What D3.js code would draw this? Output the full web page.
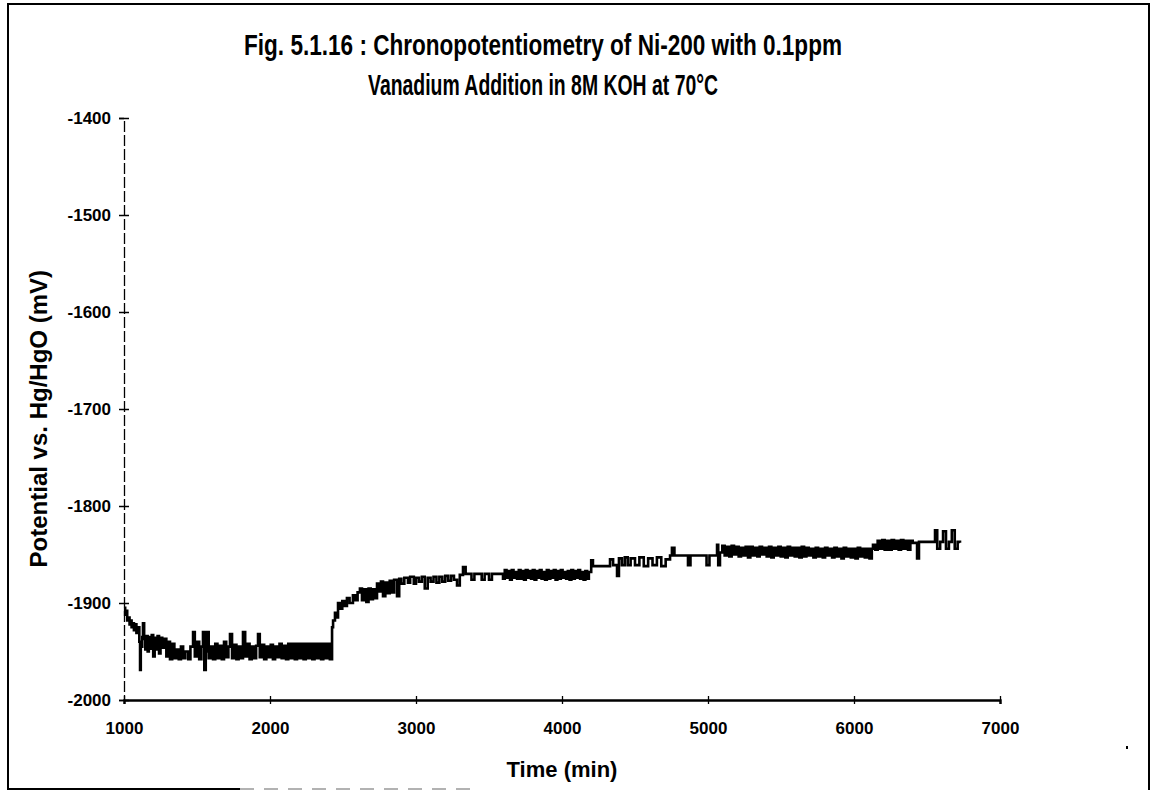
<html>
<head>
<meta charset="utf-8">
<script src="https://d3js.org/d3.v7.min.js"></script>
<style>
  body { margin: 0; background: #fff; }
  text { font-family: "Liberation Sans", Arial, sans-serif; font-weight: bold; fill: #000; }
</style>
</head>
<body>
<div id="chart"></div>
<script>

// svg size
var svg_width = 1152
var svg_height = 796

// axis ticks
var x_ticks = [1000, 2000, 3000, 4000, 5000, 6000, 7000]
var y_ticks = [-2000, -1900, -1800, -1700, -1600, -1500, -1400]

// time (min)
var time_min = [
  1000, 1008, 1015, 1022, 1030, 1038, 1045, 1052, 1060, 1068, 1075, 1085, 1095, 1105, 1110, 1115,
  1125, 1130, 1138, 1146, 1154, 1162, 1170, 1180, 1190, 1200, 1210, 1220, 1230, 1240, 1250, 1262,
  1275, 1290, 1300, 1315, 1330, 1345, 1360, 1375, 1390, 1405, 1420, 1440, 1455, 1473, 1485, 1500,
  1515, 1530, 1541, 1550, 1560, 1568, 1580, 1595, 1610, 1625, 1640, 1655, 1670, 1685, 1700, 1715,
  1726, 1740, 1755, 1770, 1785, 1800, 1815, 1830, 1845, 1860, 1875, 1890, 1905, 1918, 1930, 1945,
  1960, 1975, 1990, 2005, 2020, 2035, 2050, 2065, 2080, 2095, 2110, 2125, 2140, 2155, 2170, 2185,
  2200, 2215, 2230, 2245, 2260, 2275, 2290, 2305, 2320, 2335, 2350, 2365, 2380, 2395, 2410,
  2425, 2432, 2445, 2455, 2466, 2480, 2495, 2510, 2527, 2545, 2568, 2585, 2600, 2616, 2630, 2645,
  2660, 2675, 2690, 2705, 2720, 2733, 2745, 2760, 2774, 2790, 2805, 2820, 2835, 2850, 2870, 2885,
  2900, 2920, 2945, 2960, 2985, 3000, 3020, 3040, 3060, 3080, 3100, 3120, 3140, 3160, 3180, 3200,
  3220, 3240, 3260, 3281, 3300, 3322, 3340, 3360, 3380, 3400, 3430, 3450, 3470, 3500, 3520, 3560,
  3596, 3608, 3620, 3632, 3644, 3656, 3668, 3680, 3692, 3704,
  3716, 3728, 3740, 3752, 3764, 3776, 3788, 3800, 3812, 3824,
  3836, 3848, 3860, 3872, 3884, 3896, 3908, 3920, 3932, 3944,
  3956, 3968, 3980, 3992, 4004, 4016, 4028, 4040, 4052, 4064,
  4076, 4088, 4100, 4112, 4124, 4136, 4148, 4160, 4172, 4184,
  4192, 4200, 4212, 4260, 4300, 4329, 4350, 4377, 4390, 4410, 4430, 4450, 4470, 4500, 4530, 4560,
  4590, 4620, 4650, 4680, 4710, 4740, 4753, 4770, 4820, 4863, 4880, 4920, 4950, 4990, 5010, 5040,
  5062, 5070,
  5082, 5098, 5114, 5130, 5146, 5162, 5178, 5194, 5210, 5226,
  5242, 5258, 5274, 5290, 5306, 5322, 5338, 5354, 5370, 5386,
  5402, 5418, 5434, 5450, 5466, 5482, 5498, 5514, 5530, 5546,
  5562, 5578, 5594, 5610, 5626, 5642, 5658, 5674, 5690, 5706,
  5722, 5738, 5754, 5770, 5786, 5802, 5818, 5834, 5850, 5866,
  5882, 5898, 5914, 5930, 5946, 5962, 5978, 5994, 6010, 6026,
  6042, 6058, 6074, 6090, 6106, 6122,
  6130, 6146, 6162, 6178, 6194, 6210, 6226, 6242, 6258, 6274, 6290, 6306, 6322, 6338, 6354, 6370,
  6386, 6402, 6418, 6432, 6445, 6541, 6555, 6570, 6590, 6610, 6630, 6650, 6670, 6690, 6710, 6726
]

// potential vs. Hg/HgO (mV), same order
var potential_mv = [
  -1905, -1912, -1908, -1918, -1915, -1922, -1918, -1925, -1921, -1928, -1922, -1931, -1925, -1940, -1969, -1945,
  -1935, -1921, -1937, -1948, -1934, -1950, -1935, -1947, -1933, -1955, -1936, -1948, -1934, -1952, -1936, -1946,
  -1937, -1955, -1940, -1958, -1942, -1957, -1948, -1958, -1945, -1957, -1950, -1958, -1945, -1930, -1955, -1940,
  -1958, -1945, -1930, -1969, -1950, -1930, -1957, -1945, -1958, -1942, -1957, -1944, -1958, -1940, -1956, -1945,
  -1932, -1957, -1943, -1958, -1945, -1957, -1930, -1955, -1942, -1958, -1945, -1957, -1944, -1932, -1956, -1943,
  -1958, -1945, -1956, -1943, -1958, -1945, -1956, -1942, -1957, -1944, -1958, -1942, -1957, -1942, -1958, -1942,
  -1957, -1942, -1958, -1942, -1957, -1942, -1958, -1942, -1957, -1942, -1958, -1942, -1957, -1942, -1958,
  -1925, -1918, -1910, -1915, -1900, -1906, -1898, -1903, -1895, -1900, -1892, -1897, -1889, -1885, -1897, -1886,
  -1899, -1885, -1896, -1886, -1895, -1880, -1888, -1878, -1893, -1879, -1890, -1877, -1889, -1876, -1893, -1875,
  -1880, -1874, -1879, -1873, -1880, -1874, -1878, -1873, -1885, -1874, -1878, -1873, -1879, -1873, -1878, -1872,
  -1877, -1872, -1876, -1882, -1871, -1863, -1870, -1870, -1876, -1870, -1870, -1876, -1870, -1876, -1870, -1870,
  -1875, -1866, -1874, -1867, -1876, -1866, -1874, -1868, -1875, -1866,
  -1875, -1867, -1876, -1866, -1874, -1867, -1875, -1866, -1876, -1867,
  -1874, -1866, -1875, -1868, -1876, -1866, -1875, -1867, -1874, -1866,
  -1876, -1867, -1875, -1866, -1874, -1868, -1875, -1867, -1876, -1866,
  -1875, -1867, -1874, -1866, -1875, -1868, -1876, -1867, -1875, -1868,
  -1868, -1856, -1862, -1862, -1862, -1855, -1861, -1872, -1854, -1861, -1853, -1861, -1854, -1861, -1853, -1862,
  -1854, -1861, -1853, -1862, -1855, -1851, -1843, -1851, -1851, -1861, -1851, -1851, -1851, -1861, -1851, -1851,
  -1840, -1861,
  -1848, -1841, -1851, -1842, -1852, -1841, -1850, -1842, -1852, -1843,
  -1851, -1842, -1853, -1842, -1851, -1843, -1852, -1842, -1850, -1843,
  -1852, -1842, -1853, -1843, -1851, -1842, -1852, -1843, -1853, -1842,
  -1851, -1843, -1852, -1843, -1853, -1842, -1852, -1843, -1851, -1844,
  -1853, -1843, -1852, -1844, -1853, -1843, -1851, -1844, -1853, -1843,
  -1852, -1844, -1854, -1843, -1852, -1844, -1853, -1844, -1854, -1843,
  -1852, -1844, -1853, -1844, -1854, -1844,
  -1840, -1845, -1836, -1844, -1835, -1845, -1836, -1845, -1835, -1844, -1836, -1845, -1835, -1844, -1836, -1845,
  -1836, -1838, -1838, -1854, -1837, -1837, -1825, -1844, -1837, -1826, -1844, -1837, -1825, -1844, -1837, -1838
]

var svg = d3.select("#chart").append("svg")
  .attr("width", svg_width)
  .attr("height", svg_height)

// frame of the scanned page
svg.append("path")
  .attr("d", "M8,790 L8,4 L1149,4 L1149,790")
  .style("fill", "none")
  .style("stroke", "#000")
  .style("stroke-width", 2)

svg.append("line")
  .attr("x1", 8).attr("y1", 789).attr("x2", 240).attr("y2", 789)
  .style("stroke", "#000")
  .style("stroke-width", 2)

svg.append("line")
  .attr("x1", 240).attr("y1", 789).attr("x2", 480).attr("y2", 789)
  .style("stroke", "#999")
  .style("stroke-width", 1.5)
  .style("stroke-dasharray", "14,10")

// stray speck on the scan
svg.append("rect")
  .attr("x", 1126).attr("y", 746).attr("width", 2).attr("height", 3)
  .style("fill", "#000")

var x = d3.scaleLinear()
  .domain([1000, 7000])
  .range([124, 1000])

var y = d3.scaleLinear()
  .domain([-2000, -1400])
  .range([700, 118])

// title, the scan shows a tall narrow bold face
svg.append("text")
  .attr("transform", "translate(543,55) scale(1,1.25)")
  .attr("text-anchor", "middle")
  .attr("font-size", 23)
  .attr("textLength", 598)
  .attr("lengthAdjust", "spacingAndGlyphs")
  .text("Fig. 5.1.16 : Chronopotentiometry of Ni-200 with 0.1ppm")

svg.append("text")
  .attr("transform", "translate(543,95) scale(1,1.25)")
  .attr("text-anchor", "middle")
  .attr("font-size", 23)
  .attr("textLength", 350)
  .attr("lengthAdjust", "spacingAndGlyphs")
  .text("Vanadium Addition in 8M KOH at 70°C")

// y axis
var y_axis = svg.append("g")
  .attr("transform", "translate(" + x(1000) + ",0)")
  .call(d3.axisLeft(y).tickValues(y_ticks).tickSize(5).tickPadding(8)
    .tickFormat(function(d) { return String(d) }))

y_axis.select(".domain").style("stroke-width", 1.3).style("stroke-dasharray", "11,3")
y_axis.selectAll(".tick line").attr("x1", -5).attr("x2", 5).style("stroke-width", 1.5)
y_axis.selectAll(".tick text")
  .attr("font-size", 17)
  .style("font-family", "Liberation Sans, Arial, sans-serif")
  .style("font-weight", "bold")

// x axis
var x_axis = svg.append("g")
  .attr("transform", "translate(0," + y(-2000) + ")")
  .call(d3.axisBottom(x).tickValues(x_ticks).tickSize(4).tickPadding(18)
    .tickFormat(function(d) { return String(d) }))

x_axis.select(".domain").style("stroke-width", 2.4)
x_axis.selectAll(".tick line").attr("y1", -4).style("stroke-width", 1.3)
x_axis.selectAll(".tick text")
  .attr("font-size", 17)
  .style("font-family", "Liberation Sans, Arial, sans-serif")
  .style("font-weight", "bold")

// axis titles
svg.append("text")
  .attr("transform", "translate(47," + y(-1710) + ") rotate(-90)")
  .attr("text-anchor", "middle")
  .attr("font-size", 24)
  .text("Potential vs. Hg/HgO (mV)")

svg.append("text")
  .attr("x", 562)
  .attr("y", 777)
  .attr("text-anchor", "middle")
  .attr("font-size", 22)
  .text("Time (min)")

// the trace
var points = d3.zip(time_min, potential_mv)

var line = d3.line()
  .x(function(d) { return x(d[0]) })
  .y(function(d) { return y(d[1]) })
  .curve(d3.curveStepAfter)

svg.append("path")
  .datum(points)
  .attr("d", line)
  .style("fill", "none")
  .style("stroke", "#000")
  .style("stroke-width", 2.6)

</script>
</body>
</html>
